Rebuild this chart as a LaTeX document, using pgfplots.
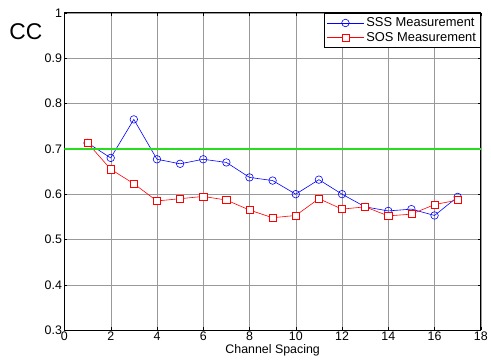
\documentclass[border=0pt]{standalone}
\usepackage{fontspec}
\setmainfont{Liberation Sans}
\usepackage{pgfplots}
\pgfplotsset{compat=1.18}
\definecolor{mred}{RGB}{255,0,0}
\definecolor{mblue}{RGB}{0,0,255}
\definecolor{mgreen}{RGB}{40,220,30}
\begin{document}
\begin{tikzpicture}
\begin{axis}[
  name=ax,
  scale only axis,
  width=420pt, height=320pt,
  xmin=0, xmax=18, ymin=0.3, ymax=1,
  xtick={0,2,...,18},
  ytick={0.3,0.4,0.5,0.6,0.7,0.8,0.9,1},
  yticklabels={0.3,0.4,0.5,0.6,0.7,0.8,0.9,1},
  /pgf/number format/assume math mode=true,
  tick label style={font=\fontsize{12.5}{14}\selectfont},
  xticklabel style={yshift=2pt},
  yticklabel style={xshift=1pt},
  tick align=inside,
  tick pos=both,
  major tick length=3pt,
  tick style={black, thin},
  grid=major,
  major grid style={gray!80, thin},
  axis line style={black, line width=1.2pt},
  xlabel={Channel Spacing},
  xlabel style={font=\fontsize{12.5}{14}\selectfont, yshift=3pt},
  legend style={at={(rel axis cs:1,1)}, anchor=north east, draw=black, line width=0.8pt,
    font=\fontsize{13}{15}\selectfont, row sep=0pt, inner sep=2.5pt},
  legend cell align=left,
  legend image code/.code={\draw[mark repeat=2,mark phase=2,#1] plot coordinates {(0cm,0cm) (0.66cm,0cm) (1.32cm,0cm)};},
]
\addplot[color=mblue, line width=0.6pt, mark=o, mark size=3.8pt, mark options={solid, draw=mblue, fill=none}] coordinates {
(1,0.713)(2,0.680)(3,0.765)(4,0.677)(5,0.667)(6,0.677)(7,0.670)(8,0.637)(9,0.630)
(10,0.600)(11,0.632)(12,0.600)(13,0.572)(14,0.563)(15,0.567)(16,0.553)(17,0.594)};
\addlegendentry{SSS Measurement}
\addplot[color=mred, line width=0.6pt, mark=square*, mark size=3.6pt, mark options={solid, draw=mred, fill=white, line width=0.6pt}] coordinates {
(1,0.713)(2,0.655)(3,0.623)(4,0.585)(5,0.590)(6,0.595)(7,0.587)(8,0.565)(9,0.548)
(10,0.553)(11,0.590)(12,0.567)(13,0.572)(14,0.552)(15,0.556)(16,0.577)(17,0.587)};
\addlegendentry{SOS Measurement}
\addplot[mgreen, line width=2.2pt, forget plot] coordinates {(0,0.7)(18,0.7)};
\end{axis}
\node[anchor=east, font=\fontsize{23}{26}\selectfont, inner sep=0pt] at ([shift={(-22pt,301pt)}]ax.south west) {CC};
\useasboundingbox ([shift={(-65pt,-34pt)}]ax.south west) rectangle ([shift={(6pt,13pt)}]ax.north east);
\end{tikzpicture}
\end{document}
